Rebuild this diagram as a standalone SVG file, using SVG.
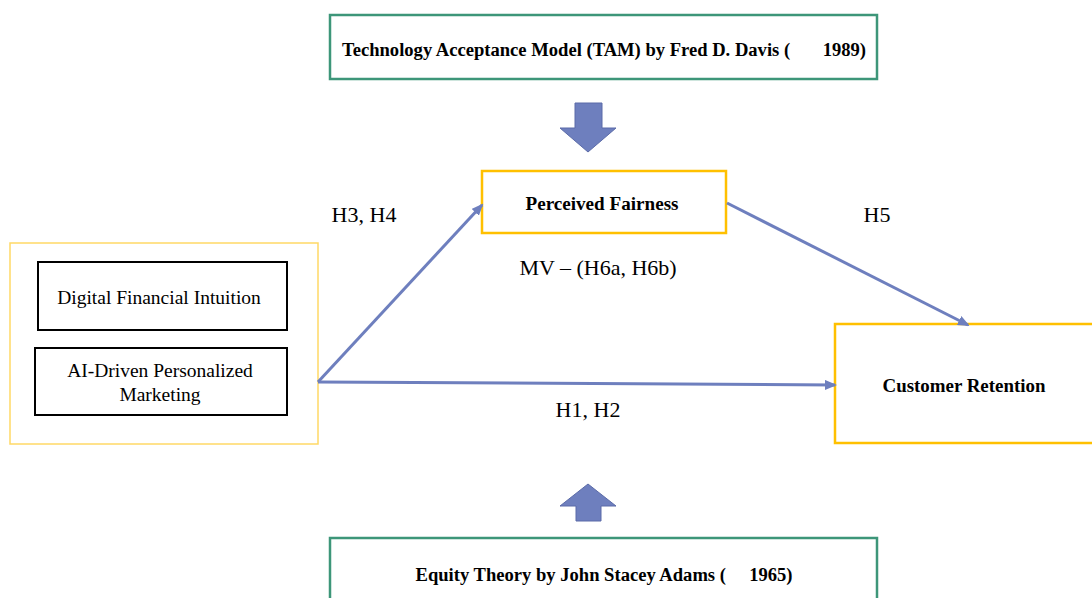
<svg xmlns="http://www.w3.org/2000/svg" width="1092" height="598" viewBox="0 0 1092 598">
<style>
.t{font-family:"Liberation Serif","Times New Roman",serif;fill:#000;white-space:pre}
.b{font-weight:bold}
.green{fill:#fff;stroke:#3D9679;stroke-width:2.5}
.yel{fill:#fff;stroke:#FFC000;stroke-width:2.5}
.yl{fill:#fff;stroke:#FFD966;stroke-width:1.5}
.blk{fill:#fff;stroke:#000;stroke-width:2}
.conn{stroke:#6E7FBE;stroke-width:3;fill:none}
.blk-arrow{fill:#6E7FBE;stroke:#5B6BA8;stroke-width:1}
</style>
<defs>
<marker id="ah" markerWidth="12" markerHeight="10" refX="10" refY="5" orient="auto" markerUnits="userSpaceOnUse" viewBox="0 0 12 10">
<path d="M0,0 L12,5 L0,10 z" fill="#6E7FBE"/>
</marker>
</defs>
<rect width="1092" height="598" fill="#fff"/>
<g id="tam">
<rect class="green" x="330" y="15" width="547" height="64"/>
<text class="t b" x="604" y="56" font-size="18" text-anchor="middle" textLength="524" lengthAdjust="spacingAndGlyphs">Technology Acceptance Model (TAM) by Fred D. Davis (       1989)</text>
</g>
<g id="tam-arrow">
<path class="blk-arrow" d="M575,103 H602 V128 H616 L588,152 L560,128 H575 Z"/>
</g>
<g id="fairness">
<rect class="yel" x="482" y="171" width="244" height="62"/>
<text class="t b" x="602" y="210" font-size="18" text-anchor="middle" textLength="153" lengthAdjust="spacingAndGlyphs">Perceived Fairness</text>
</g>
<g id="predictors">
<rect class="yl" x="10" y="243" width="308" height="201"/>
</g>
<g id="dfi">
<rect class="blk" x="38" y="262" width="249" height="68"/>
<text class="t" x="159" y="304" font-size="19.5" text-anchor="middle">Digital Financial Intuition</text>
</g>
<g id="aipm">
<rect class="blk" x="35" y="348" width="252" height="67"/>
<text class="t" x="160" y="377" font-size="19.5" text-anchor="middle">AI-Driven Personalized</text>
<text class="t" x="160" y="401" font-size="19.5" text-anchor="middle">Marketing</text>
</g>
<g id="retention">
<rect class="yel" x="835" y="324" width="262" height="119"/>
<text class="t b" x="964" y="392" font-size="18" text-anchor="middle" textLength="163" lengthAdjust="spacingAndGlyphs">Customer Retention</text>
</g>
<g id="equity-arrow">
<path class="blk-arrow" d="M576,521 H601 V506 H616 L588,484 L560,506 H576 Z"/>
</g>
<g id="equity">
<rect class="green" x="330" y="538" width="547" height="70"/>
<text class="t b" x="604" y="581" font-size="18" text-anchor="middle" textLength="377" lengthAdjust="spacingAndGlyphs">Equity Theory by John Stacey Adams (     1965)</text>
</g>
<g id="connectors">
<line class="conn" x1="318" y1="382" x2="482" y2="205" marker-end="url(#ah)"/>
<line class="conn" x1="318" y1="382" x2="835" y2="385" marker-end="url(#ah)"/>
<line class="conn" x1="727" y1="203" x2="968" y2="325" marker-end="url(#ah)"/>
</g>
<g id="labels">
<text class="t" x="364" y="222" font-size="22" text-anchor="middle">H3, H4</text>
<text class="t" x="877" y="222" font-size="22" text-anchor="middle">H5</text>
<text class="t" x="598" y="275" font-size="22" text-anchor="middle">MV – (H6a, H6b)</text>
<text class="t" x="588" y="417" font-size="22" text-anchor="middle">H1, H2</text>
</g>
</svg>
